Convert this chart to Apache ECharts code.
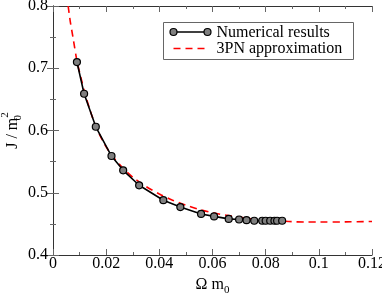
<!DOCTYPE html>
<html><head><meta charset="utf-8">
<script src="https://cdn.jsdelivr.net/npm/echarts@6/dist/echarts.min.js"></script>
<style>html,body{margin:0;padding:0;background:#fff}#c{width:382px;height:293px}</style>
</head><body><div id="c"></div>
<script>
// Numerical results
const numOmega = [0.0090,0.0117,0.0161,0.0220,0.0264,0.0324,0.0415,0.0479,0.0557,0.0606,0.0661,0.0700,0.0728,0.0757,0.0787,0.0800,0.0817,0.0833,0.0843,0.0862];
const numJ     = [0.710,0.659,0.606,0.559,0.536,0.512,0.488,0.477,0.466,0.462,0.458,0.457,0.456,0.455,0.455,0.455,0.455,0.455,0.455,0.455];
// 3PN approximation
const pnOmega = [0.0057,0.0065,0.0075,0.0090,0.0105,0.0120,0.0140,0.0160,0.0190,0.0220,0.0260,0.0300,0.0350,0.0400,0.0450,0.0500,0.0550,0.0600,0.0650,0.0700,0.0750,0.0800,0.0850,0.0900,0.0950,0.1000,0.1100,0.1200];
const pnJ     = [0.800,0.775,0.750,0.712,0.685,0.660,0.632,0.608,0.581,0.561,0.541,0.525,0.510,0.498,0.488,0.480,0.473,0.468,0.464,0.461,0.458,0.456,0.455,0.4535,0.453,0.453,0.4532,0.4538];
const xTicks = [0,0.02,0.04,0.06,0.08,0.1,0.12];
const yTicks = [0.4,0.5,0.6,0.7,0.8];
const seriesNames = ['Numerical results','3PN approximation'];

const FONT = 'Liberation Serif';
const chart = echarts.init(document.getElementById('c'), null, {renderer:'canvas'});
const axisCommon = {
  axisLine:{show:true,lineStyle:{color:'#333',width:1}},
  axisTick:{show:true,inside:true,length:6,lineStyle:{color:'#666'}},
  minorTick:{show:true,splitNumber:2,length:3,lineStyle:{color:'#666'}},
  splitLine:{show:false}
};
const fmt = v => { const s = String(+v.toFixed(3)); return s; };
chart.setOption({
  animation:false,
  grid:{left:53,top:6,right:10,bottom:38,containLabel:false,outerBoundsMode:'none'},
  xAxis:[
    Object.assign({type:'value',min:0,max:0.12,interval:0.02,position:'bottom',
      name:'{a|Ω m}{s|0}',nameLocation:'middle',nameGap:18,nameMoveOverlap:false,
      nameTextStyle:{fontFamily:FONT,fontSize:16,color:'#000',rich:{a:{fontFamily:FONT,fontSize:16,color:'#000'},s:{fontFamily:FONT,fontSize:11,color:'#000',padding:[12,0,0,0]}}},
      axisLabel:{fontFamily:FONT,fontSize:16,color:'#000',margin:1,formatter:v=>fmt(v)}},axisCommon),
    Object.assign({type:'value',min:0,max:0.12,interval:0.02,position:'top',axisLabel:{show:false}},axisCommon)
  ],
  yAxis:[
    Object.assign({type:'value',min:0.4,max:0.8,interval:0.1,position:'left',
      name:'{a|J / m}{s|0}{p|2}',nameLocation:'middle',nameGap:28,nameRotate:90,nameMoveOverlap:false,
      nameTextStyle:{fontFamily:FONT,fontSize:16,color:'#000',rich:{
        a:{fontFamily:FONT,fontSize:16,color:'#000'},
        s:{fontFamily:FONT,fontSize:11,color:'#000',padding:[12,0,0,0],width:0},
        p:{fontFamily:FONT,fontSize:11,color:'#000',padding:[0,0,14,0]}}},
      axisLabel:{fontFamily:FONT,fontSize:16,color:'#000',margin:5,formatter:v=>fmt(v)}},axisCommon),
    Object.assign({type:'value',min:0.4,max:0.8,interval:0.1,position:'right',axisLabel:{show:false}},axisCommon)
  ],
  series:[
    {name:seriesNames[0],type:'line',data:numOmega.map((x,i)=>[x,numJ[i]]),
     symbol:'circle',symbolSize:7,showSymbol:true,
     lineStyle:{color:'#000',width:1.6},
     itemStyle:{color:'#7f7f7f',borderColor:'#000',borderWidth:1.2},z:3},
    {name:seriesNames[1],type:'line',data:pnOmega.map((x,i)=>[x,pnJ[i]]),
     smooth:0.3,symbol:'none',
     lineStyle:{color:'#ff0000',width:1.6,type:[7,5]},z:2}
  ],
  graphic:[
    {type:'group',left:163,top:22,children:[
      {type:'rect',shape:{x:0,y:0,width:190,height:37},style:{fill:'#fff',stroke:'#666',lineWidth:1}},
      {type:'line',shape:{x1:10,y1:9.5,x2:44,y2:9.5},style:{stroke:'#000',lineWidth:1.6}},
      {type:'circle',shape:{cx:10,cy:9.5,r:3.5},style:{fill:'#7f7f7f',stroke:'#000',lineWidth:1.2}},
      {type:'circle',shape:{cx:44,cy:9.5,r:3.5},style:{fill:'#7f7f7f',stroke:'#000',lineWidth:1.2}},
      {type:'text',x:53,y:10,style:{text:seriesNames[0],font:'16px "Liberation Serif"',fill:'#000',verticalAlign:'middle'}},
      {type:'line',shape:{x1:10,y1:26,x2:44,y2:26},style:{stroke:'#ff0000',lineWidth:1.6,lineDash:[7,5]}},
      {type:'text',x:53,y:26,style:{text:seriesNames[1],font:'16px "Liberation Serif"',fill:'#000',verticalAlign:'middle'}}
    ]}
  ]
});
</script></body></html>
